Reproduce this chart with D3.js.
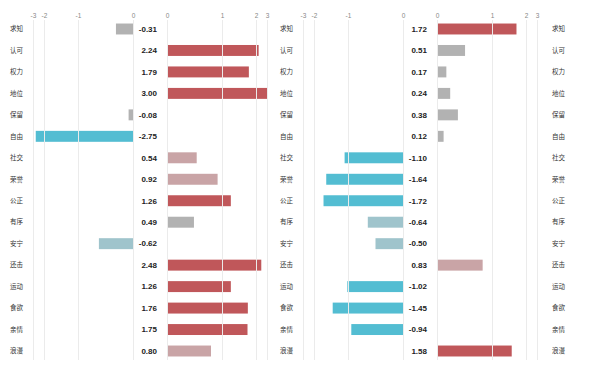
<!DOCTYPE html>
<html>
<head>
<meta charset="utf-8">
<script src="https://cdn.jsdelivr.net/npm/d3@7"></script>
<style>
  body { margin: 0; background: #fff; }
  .cat { font-family: "Noto Sans CJK SC", sans-serif; font-size: 6.5px; fill: #333; }
  .val { font-family: "Liberation Sans", Arial, sans-serif; font-size: 8px; font-weight: bold; fill: #222; }
  .tick-label { font-family: "Liberation Sans", Arial, sans-serif; font-size: 6.5px; fill: #888; }
</style>
</head>
<body>
<svg id="chart" width="609" height="372"></svg>
<script>
const categories = ['求知', '认可', '权力', '地位', '保留', '自由', '社交', '荣誉',
  '公正', '有序', '安宁', '还击', '运动', '食欲', '亲情', '浪漫']

const valuesA = [-0.31, 2.24, 1.79, 3.00, -0.08, -2.75, 0.54, 0.92,
  1.26, 0.49, -0.62, 2.48, 1.26, 1.76, 1.75, 0.80]
const valuesB = [1.72, 0.51, 0.17, 0.24, 0.38, 0.12, -1.10, -1.64,
  -1.72, -0.64, -0.50, 0.83, -1.02, -1.45, -0.94, 1.58]

// level of each score: 2 high, 1 raised, 0 average, -1 lowered, -2 low
const levelsA = [0, 2, 2, 2, 0, -2, 1, 1, 2, 0, -1, 2, 2, 2, 2, 1]
const levelsB = [2, 0, 0, 0, 0, 0, -2, -2, -2, -1, -1, 1, -2, -2, -2, 2]

const negTicks = [-3, -2, -1, 0]
const posTicks = [0, 1, 2, 3]

const svg = d3.select('#chart')

const color = d3.scaleOrdinal()
  .domain([2, 1, 0, -1, -2])
  .range(['#c0575a', '#c9a4a6', '#b2b2b2', '#9fc4cc', '#53bdd2'])

const y = d3.scaleBand()
  .domain(categories)
  .range([13, 367])
  .padding(0.49)

// the axis is compressed towards the ends
const mag = d3.scaleLinear()
  .domain([0, 1, 2, 3])
  .range([0, 55, 89, 100])

const fmtVal = d => d3.format('.2f')(d).replace('\u2212', '-')

function panel(g, values, levels) {
  const negX = d3.scaleLinear().domain([-3, -2, -1, 0]).range([33, 44, 78, 133])
  const posX = d3.scaleLinear().domain([0, 1, 2, 3]).range([167, 222, 256, 267])

  const rows = categories.map((c, i) => ({ c, v: values[i], lvl: levels[i] }))

  g.selectAll('.bar').data(rows).enter().append('rect')
    .attr('class', 'bar')
    .attr('x', d => d.v < 0 ? 133 - mag(-d.v) : 167)
    .attr('y', d => y(d.c))
    .attr('width', d => mag(Math.abs(d.v)))
    .attr('height', y.bandwidth())
    .attr('fill', d => color(d.lvl))

  const grid = g.append('g').attr('class', 'grid')
  grid.selectAll('.gn').data(negTicks).enter().append('line')
    .attr('x1', d => negX(d) + 0.5).attr('x2', d => negX(d) + 0.5)
    .attr('y1', 20).attr('y2', 360)
    .attr('stroke', '#ebebeb')
  grid.selectAll('.gp').data(posTicks).enter().append('line')
    .attr('x1', d => posX(d) + 0.5).attr('x2', d => posX(d) + 0.5)
    .attr('y1', 20).attr('y2', 360)
    .attr('stroke', '#ebebeb')

  const axisNeg = d3.axisTop(negX).tickValues(negTicks).tickFormat(d => String(d))
    .tickSize(0).tickPadding(0)
  const axisPos = d3.axisTop(posX).tickValues(posTicks).tickFormat(d => String(d))
    .tickSize(0).tickPadding(0)

  g.append('g').attr('transform', 'translate(0,18)').call(axisNeg)
  g.append('g').attr('transform', 'translate(0,18)').call(axisPos)
  g.selectAll('.domain').remove()
  g.selectAll('.tick text').attr('class', 'tick-label').attr('fill', null)
    .attr('font-family', null).attr('font-size', null)

  g.selectAll('.val').data(rows).enter().append('text')
    .attr('class', 'val')
    .attr('x', 157)
    .attr('y', d => y(d.c) + y.bandwidth() / 2)
    .attr('dy', '0.35em')
    .attr('text-anchor', 'end')
    .text(d => fmtVal(d.v))
}

function labels(x) {
  svg.append('g').selectAll('text').data(categories).enter().append('text')
    .attr('class', 'cat')
    .attr('x', x)
    .attr('y', d => y(d) + y.bandwidth() / 2)
    .attr('dy', '0.35em')
    .text(d => d)
}

panel(svg.append('g'), valuesA, levelsA)
panel(svg.append('g').attr('transform', 'translate(270,0)'), valuesB, levelsB)

labels(10)
labels(280)
labels(552)
</script>
</body>
</html>
